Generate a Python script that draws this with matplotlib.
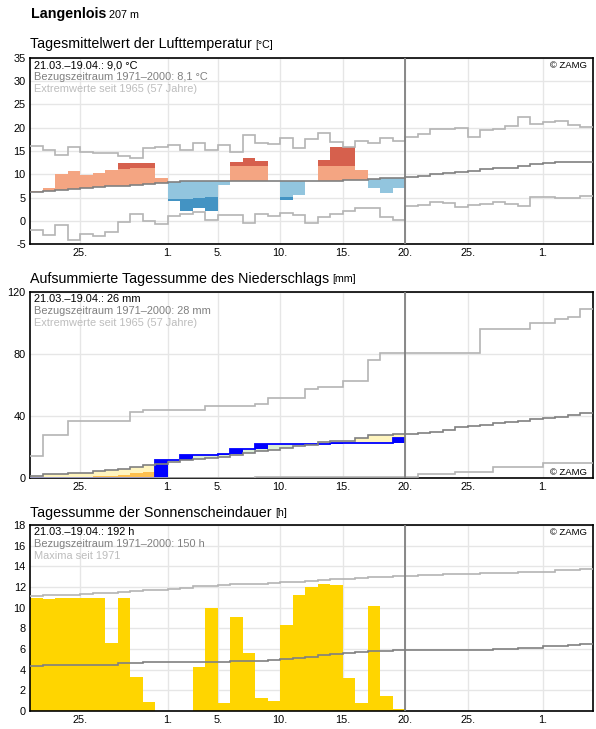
import numpy as np
import matplotlib.pyplot as plt

plt.rcParams['font.family'] = ['Liberation Sans', 'DejaVu Sans']
plt.rcParams['axes.unicode_minus'] = False

# day 0 = 21 March, observed up to 19 April (day 29), reference lines to 4 May
tick_pos = [4, 11, 15, 20, 25, 30, 35, 41]
tick_lab = ["25.", "1.", "5.", "10.", "15.", "20.", "25.", "1."]

# --- air temperature, daily mean (°C)
t_obs = [6.4, 7.1, 10.0, 10.75, 9.9, 10.3, 11.0, 12.5, 12.5, 12.5,
         9.25, 4.35, 2.2, 2.75, 2.2, 7.6, 12.7, 13.55, 12.9, 8.5,
         4.55, 5.45, 8.5, 13.1, 15.8, 15.8, 11.0, 6.95, 6.05, 6.95]
# border between light and dark colour, where the day reaches it
t_edge = [None, None, None, None, None, None, None, 11.1, 11.4, 11.4,
          None, 4.7, 4.7, 4.9, 5.1, None, 11.8, 11.8, 11.8, None,
          5.15, None, None, 11.8, 11.8, 11.8, None, None, None, None]
t_clim = [6.2, 6.35, 6.6, 6.8, 7.0, 7.2, 7.45, 7.45, 7.7, 7.95,
          8.15, 8.3, 8.45, 8.5, 8.5, 8.5, 8.5, 8.5, 8.5, 8.5,
          8.5, 8.5, 8.5, 8.5, 8.5, 8.75, 8.75, 8.9, 9.1, 9.3,
          9.5, 9.7, 10.0, 10.25, 10.55, 10.75, 11.05, 11.4, 11.45, 11.75,
          12.1, 12.4, 12.55, 12.7, 12.7]
t_max = [16.15, 15.2, 14.2, 15.85, 14.8, 14.55, 14.55, 14.0, 13.55, 15.6,
         15.95, 16.35, 15.2, 16.7, 15.2, 16.2, 14.8, 18.45, 16.7, 16.5,
         17.8, 15.65, 17.6, 18.9, 16.85, 15.85, 17.1, 16.7, 17.8, 17.2,
         18.1, 18.6, 19.65, 19.8, 19.95, 18.1, 19.45, 19.65, 20.3, 22.25,
         20.75, 21.25, 21.45, 20.6, 20.15]
t_min = [-2.0, -3.15, -1.0, -4.1, -2.9, -3.3, -2.45, -0.3, 1.4, 0.0,
         -0.75, 1.0, 1.4, 1.9, 0.1, 1.2, 1.2, -0.55, 1.4, 1.0,
         1.6, 1.2, -0.55, 0.7, 1.4, 2.2, 2.7, 2.7, 0.75, 0.2,
         3.15, 3.45, 4.1, 3.9, 2.95, 3.3, 3.6, 4.1, 3.6, 3.15,
         5.1, 5.1, 4.9, 4.9, 5.3]

# --- precipitation, accumulated (mm)
p_obs = [0, 0, 0, 0, 0, 0, 0, 0, 0, 0.3,
         11.5, 11.5, 14.7, 14.7, 15.1, 15.3, 18.5, 18.9, 21.7, 21.9,
         21.9, 21.9, 21.9, 21.9, 22.8, 22.8, 22.8, 22.8, 22.8, 26.0]
p_dry = [0.2, 0.4, 0.5, 0.6, 0.8, 1.1, 1.3, 1.7, 3.4, 4.0]
p_clim = [1.3, 2.3, 2.3, 3.0, 3.4, 4.3, 4.9, 5.5, 7.4, 8.1,
          8.9, 10.2, 11.3, 12.1, 13.0, 13.6, 15.1, 16.4, 17.4, 18.3,
          19.4, 20.9, 21.5, 23.4, 24.0, 24.0, 26.0, 27.7, 27.7, 28.1,
          28.5, 29.1, 30.0, 30.9, 32.8, 33.4, 34.0, 35.5, 36.2, 37.0,
          38.1, 38.9, 39.4, 40.4, 41.9]
p_max = [14, 28, 28, 37, 37, 37, 37, 37, 42.6, 44,
         44, 44, 44, 44, 46.4, 46.4, 46.4, 46.4, 47.7, 51.5,
         51.5, 51.5, 57.2, 58.5, 58.5, 62.6, 62.6, 76.2, 80.6, 80.6,
         80.6, 80.6, 80.6, 80.6, 80.6, 80.6, 96.2, 96.2, 96.2, 96.2,
         100.0, 100.0, 102.6, 103.8, 108.9]
p_min = [0] * 18 + [0.5] * 13 + [2.3] * 3 + [3.6] * 3 + [7.4] * 4 + [9.6] * 4

# --- sunshine duration (h)
s_obs = [10.95, 10.85, 10.95, 10.95, 10.95, 10.95, 6.6, 10.95, 3.3, 0.9,
         0, 0, 0, 4.25, 10.0, 0.8, 9.1, 5.6, 1.25, 1.0,
         8.3, 11.25, 12.0, 12.3, 12.2, 3.2, 0.8, 10.15, 1.45, 0.2]
s_clim = [4.4, 4.5, 4.5, 4.5, 4.5, 4.5, 4.5, 4.6, 4.6, 4.7,
          4.7, 4.7, 4.7, 4.7, 4.7, 4.7, 4.8, 4.8, 4.8, 4.95,
          5.05, 5.15, 5.25, 5.4, 5.5, 5.6, 5.7, 5.8, 5.8, 5.9,
          5.9, 5.9, 5.9, 5.9, 5.9, 5.9, 5.9, 6.0, 6.0, 6.1,
          6.1, 6.25, 6.25, 6.35, 6.45]
s_max = [11.1, 11.25, 11.25, 11.25, 11.3, 11.4, 11.45, 11.5, 11.6, 11.7,
         11.7, 11.8, 11.9, 12.05, 12.05, 12.15, 12.25, 12.25, 12.3, 12.4,
         12.5, 12.5, 12.6, 12.7, 12.75, 12.75, 12.85, 12.95, 12.95, 13.05,
         13.1, 13.15, 13.15, 13.3, 13.3, 13.3, 13.4, 13.4, 13.4, 13.5,
         13.5, 13.5, 13.6, 13.6, 13.7]

CLIM = '#808080'
EXTR = '#b4b4b4'
W, H = 596, 729

fig = plt.figure(figsize=(W / 100, H / 100), dpi=100)


def make_axes(top_px, ylim, yticks):
    ax = fig.add_axes([30 / W, 1 - (top_px + 186) / H, 563 / W, 186 / H])
    ax.set_xlim(0, 45)
    ax.set_ylim(*ylim)
    ax.set_xticks(tick_pos)
    ax.set_xticklabels(tick_lab)
    ax.set_yticks(yticks)
    ax.tick_params(length=0, labelsize=7.9, pad=3)
    ax.grid(color='#e6e6e6', lw=1)
    ax.set_axisbelow(True)
    for s in ax.spines.values():
        s.set_linewidth(1.2)
    ax.axvline(30, color=CLIM, lw=1.3, zorder=5)
    return ax


def info(ax, lines):
    cols = ['black', '#808080', '#bdbdbd']
    for k, (txt, c) in enumerate(zip(lines, cols)):
        ax.annotate(txt, xy=(0, 1), xycoords='axes fraction',
                    xytext=(4.3 * 0.72, -(7 + 12.2 * k) * 0.72), textcoords='offset points',
                    ha='left', va='center', fontsize=7.9, color=c, zorder=10)


def zamg(ax, top=True):
    if top:
        ax.annotate('© ZAMG', xy=(1, 1), xycoords='axes fraction', xytext=(-6.3 * 0.72, -7.5 * 0.72),
                    textcoords='offset points', ha='right', va='center', fontsize=6.8, zorder=10)
    else:
        ax.annotate('© ZAMG', xy=(1, 0), xycoords='axes fraction', xytext=(-6.3 * 0.72, 5.5 * 0.72),
                    textcoords='offset points', ha='right', va='center', fontsize=6.8, zorder=10)


def stairs(ax, vals, color, lw=1.2, z=4):
    ax.stairs(vals, np.arange(len(vals) + 1), baseline=None, color=color, lw=lw, zorder=z)


# ---------------- temperature
ax1 = make_axes(58, (-5, 35), range(-5, 36, 5))
for i, v in enumerate(t_obs):
    c, e = t_clim[i], t_edge[i]
    if v >= c:
        light, dark = '#f4a582', '#d6604d'
        top = v if e is None else min(v, e)
        ax1.bar(i, top - c, bottom=c, width=1, align='edge', color=light, lw=0, zorder=2)
        if e is not None and v > e:
            ax1.bar(i, v - e, bottom=e, width=1, align='edge', color=dark, lw=0, zorder=2)
    else:
        light, dark = '#92c5de', '#4393c3'
        bot = v if e is None else max(v, e)
        ax1.bar(i, c - bot, bottom=bot, width=1, align='edge', color=light, lw=0, zorder=2)
        if e is not None and v < e:
            ax1.bar(i, e - v, bottom=v, width=1, align='edge', color=dark, lw=0, zorder=2)
stairs(ax1, t_max, EXTR)
stairs(ax1, t_min, EXTR)
stairs(ax1, t_clim, CLIM)
info(ax1, ['21.03.–19.04.: 9,0 °C', 'Bezugszeitraum 1971–2000: 8,1 °C', 'Extremwerte seit 1965 (57 Jahre)'])
zamg(ax1)

# ---------------- precipitation
ax2 = make_axes(292, (0, 120), [0, 40, 80, 120])
for i, a in enumerate(p_obs):
    c = p_clim[i]
    ax2.bar(i, abs(c - a), bottom=min(a, c), width=1, align='edge',
            color='#fff5bf' if a < c else '#dcefd5', lw=0, zorder=2)
    if i < len(p_dry) and a < p_dry[i]:
        ax2.bar(i, p_dry[i] - a, bottom=a, width=1, align='edge', color='#fdc04f', lw=0, zorder=2)
    prev = p_obs[i - 1] if i > 0 else 0
    if a > prev:
        ax2.bar(i, a - prev, bottom=prev, width=1, align='edge', color='#0000ff', lw=0, zorder=3)
stairs(ax2, p_obs, '#0000ff', lw=1.3)
stairs(ax2, p_max, EXTR)
stairs(ax2, p_min, EXTR)
stairs(ax2, p_clim, CLIM)
info(ax2, ['21.03.–19.04.: 26 mm', 'Bezugszeitraum 1971–2000: 28 mm', 'Extremwerte seit 1965 (57 Jahre)'])
zamg(ax2, top=False)

# ---------------- sunshine
ax3 = make_axes(525, (0, 18), range(0, 19, 2))
ax3.bar(np.arange(len(s_obs)), s_obs, width=1, align='edge', color='#ffd500', lw=0, zorder=2)
stairs(ax3, s_max, EXTR)
stairs(ax3, s_clim, CLIM)
info(ax3, ['21.03.–19.04.: 192 h', 'Bezugszeitraum 1971–2000: 150 h', 'Maxima seit 1971'])
zamg(ax3)

# ---------------- titles
fig.canvas.draw()
renderer = fig.canvas.get_renderer()


def title(py, main, unit, size, bold=False, usize=7.7):
    t = fig.text(30.5 / W, 1 - py / H, main, fontsize=size, va='baseline',
                 fontweight='bold' if bold else 'normal')
    bb = t.get_window_extent(renderer)
    fig.text((bb.x1 + 3) / W, 1 - py / H, unit, fontsize=usize, va='baseline')


title(18.3, 'Langenlois', '207 m', 10.3, bold=True, usize=7.8)
title(48.3, 'Tagesmittelwert der Lufttemperatur', '[°C]', 10.3)
title(282.5, 'Aufsummierte Tagessumme des Niederschlags', '[mm]', 10.3)
title(516.5, 'Tagessumme der Sonnenscheindauer', '[h]', 10.3)

fig.savefig('out.png', dpi=100)
